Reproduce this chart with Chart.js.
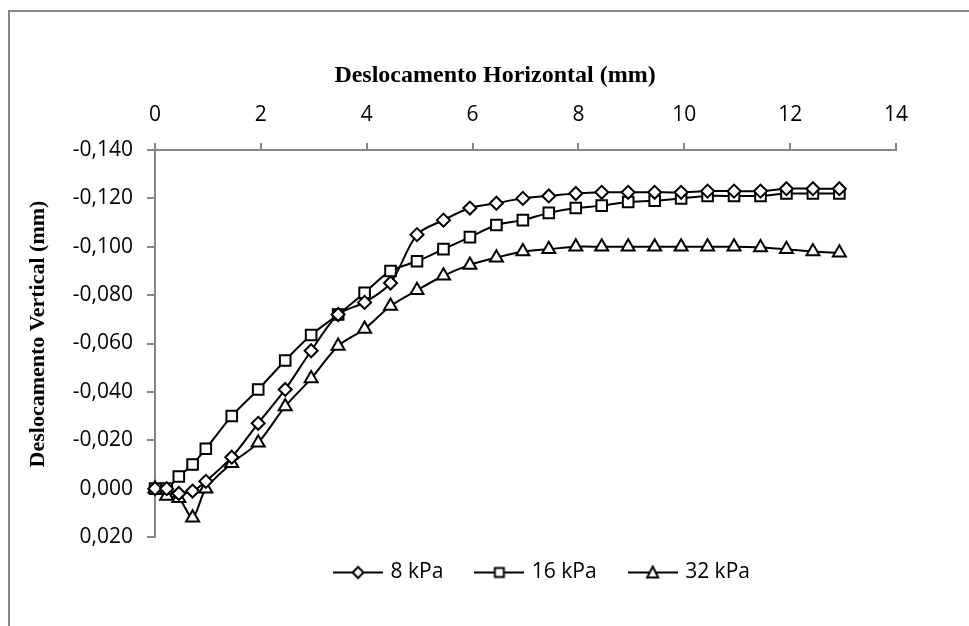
<!DOCTYPE html>
<html lang="pt-BR">
<head>
<meta charset="utf-8">
<title>Deslocamento vertical x horizontal</title>
<script src="https://cdn.jsdelivr.net/npm/chart.js@4.4.1/dist/chart.umd.min.js"></script>
<style>
  html, body { margin: 0; padding: 0; background: #fff; }
  #grafico { display: block; }
</style>
</head>
<body>
<canvas id="grafico" width="969" height="626"></canvas>
<script>
// Deslocamento horizontal (mm), comum às três séries
const deslocH = [0, 0.22, 0.45, 0.71, 0.96, 1.45, 1.95, 2.46, 2.95, 3.46, 3.96, 4.45, 4.95, 5.45, 5.95,
  6.45, 6.95, 7.44, 7.95, 8.44, 8.94, 9.44, 9.94, 10.44, 10.94, 11.44, 11.93, 12.43, 12.93];

// Deslocamento vertical (mm) por tensão normal
const vert8kPa = [0, 0.000, 0.002, 0.001, -0.003, -0.013, -0.027, -0.041, -0.057, -0.072, -0.077, -0.085,
  -0.105, -0.111, -0.116, -0.118, -0.120, -0.121, -0.122, -0.1225, -0.1225, -0.1225, -0.1225, -0.123,
  -0.123, -0.123, -0.124, -0.124, -0.124];
const vert16kPa = [0, 0.000, -0.005, -0.010, -0.0165, -0.030, -0.041, -0.053, -0.0635, -0.072, -0.081,
  -0.090, -0.094, -0.099, -0.104, -0.109, -0.111, -0.114, -0.116, -0.117, -0.1185, -0.119, -0.120,
  -0.121, -0.121, -0.121, -0.122, -0.122, -0.122];
const vert32kPa = [0, 0.003, 0.004, 0.012, 0.000, -0.0105, -0.019, -0.034, -0.0455, -0.059, -0.066,
  -0.0755, -0.082, -0.088, -0.0925, -0.0955, -0.098, -0.099, -0.100, -0.100, -0.100, -0.100, -0.100,
  -0.100, -0.100, -0.0997, -0.099, -0.098, -0.0975];

const nomesSeries = ['8 kPa', '16 kPa', '32 kPa'];
const marcadores = ['rectRot', 'rect', 'triangle'];
const limitesX = [0, 14];
const limitesY = [-0.14, 0.02];

const CINZA = '#868686';
Chart.defaults.font.family = "'Open Sans', sans-serif";
Chart.defaults.font.size = 21;
Chart.defaults.color = '#000';

// Ícone da legenda: traço com o marcador no meio
function iconeLegenda(estilo) {
  const c = document.createElement('canvas');
  c.width = 50; c.height = 16;
  const g = c.getContext('2d');
  g.strokeStyle = '#000';
  g.lineWidth = 2;
  g.beginPath(); g.moveTo(0, 8); g.lineTo(50, 8); g.stroke();
  g.fillStyle = '#fff';
  g.beginPath();
  if (estilo === 'rectRot') {
    g.moveTo(25, 2.5); g.lineTo(30.5, 8); g.lineTo(25, 13.5); g.lineTo(19.5, 8);
  } else if (estilo === 'rect') {
    g.rect(20.5, 3.5, 9, 9);
  } else {
    g.moveTo(25, 2); g.lineTo(30.5, 13); g.lineTo(19.5, 13);
  }
  g.closePath(); g.fill(); g.stroke();
  return c;
}
const icones = marcadores.map(iconeLegenda);

function serie(i, valores) {
  return {
    label: nomesSeries[i],
    data: deslocH.map((x, k) => ({ x, y: valores[k] })),
    borderColor: '#000',
    borderWidth: 2,
    tension: 0.3,
    pointStyle: marcadores[i],
    pointRadius: [6.5, 7.5, 7.5][i],
    pointBackgroundColor: '#fff',
    pointBorderColor: '#000',
    pointBorderWidth: 2,
    clip: false
  };
}

function formatarY(v) {
  if (Math.abs(v) < 1e-9) v = 0;
  return v.toFixed(3).replace('.', ',');
}

// Moldura (só esquerda e topo aparecem), títulos dos eixos e posição da legenda
const moldura = {
  id: 'moldura',
  afterLayout(chart) {
    // a legenda fica centrada na área do gráfico inteiro, não só no canvas
    const lg = chart.legend;
    lg.left += 90; lg.right += 90;
    lg.top -= 9; lg.bottom -= 9;
  },
  beforeDraw(chart) {
    const ctx = chart.ctx;
    ctx.save();
    ctx.fillStyle = '#fff';
    ctx.fillRect(0, 0, chart.width, chart.height);
    ctx.strokeStyle = CINZA;
    ctx.lineWidth = 2;
    ctx.beginPath();
    ctx.moveTo(9, chart.height);
    ctx.lineTo(9, 11);
    ctx.lineTo(chart.width, 11);
    ctx.stroke();
    ctx.restore();
  },
  afterDraw(chart) {
    const ctx = chart.ctx;
    ctx.save();
    ctx.fillStyle = '#000';
    ctx.textAlign = 'center';
    ctx.textBaseline = 'middle';
    ctx.font = "bold 24px 'Liberation Serif', serif";
    ctx.fillText('Deslocamento Horizontal (mm)', 495, 76);
    ctx.translate(38, 334);
    ctx.rotate(-Math.PI / 2);
    ctx.font = "bold 22px 'Liberation Serif', serif";
    ctx.fillText('Deslocamento Vertical (mm)', 0, 0);
    ctx.restore();
  }
};

new Chart(document.getElementById('grafico'), {
  type: 'line',
  data: {
    datasets: [serie(0, vert8kPa), serie(1, vert16kPa), serie(2, vert32kPa)]
  },
  options: {
    responsive: false,
    animation: false,
    layout: { padding: { top: 90, left: 10, right: 73, bottom: 24 } },
    plugins: {
      title: { display: false },
      tooltip: { enabled: false },
      legend: {
        position: 'bottom',
        labels: {
          usePointStyle: true,
          pointStyleWidth: 44,
          padding: 34,
          font: { size: 21 },
          generateLabels: chart =>
            Chart.defaults.plugins.legend.labels.generateLabels(chart)
              .map((it, i) => ({ ...it, pointStyle: icones[i] }))
        }
      }
    },
    scales: {
      x: {
        type: 'linear',
        position: 'top',
        min: limitesX[0],
        max: limitesX[1],
        ticks: { stepSize: 2, padding: 15 },
        grid: { drawOnChartArea: false, drawTicks: true, tickLength: 7, color: CINZA, lineWidth: 2 },
        border: { color: CINZA, width: 2 },
        afterFit: s => { s.height = 60; }
      },
      y: {
        type: 'linear',
        reverse: true,
        min: limitesY[0],
        max: limitesY[1],
        ticks: { stepSize: 0.02, padding: 14, callback: formatarY },
        grid: { drawOnChartArea: false, drawTicks: true, tickLength: 8, color: CINZA, lineWidth: 2 },
        border: { color: CINZA, width: 2 },
        afterFit: s => { s.width = 145; }
      }
    }
  },
  plugins: [moldura]
});
</script>
</body>
</html>
